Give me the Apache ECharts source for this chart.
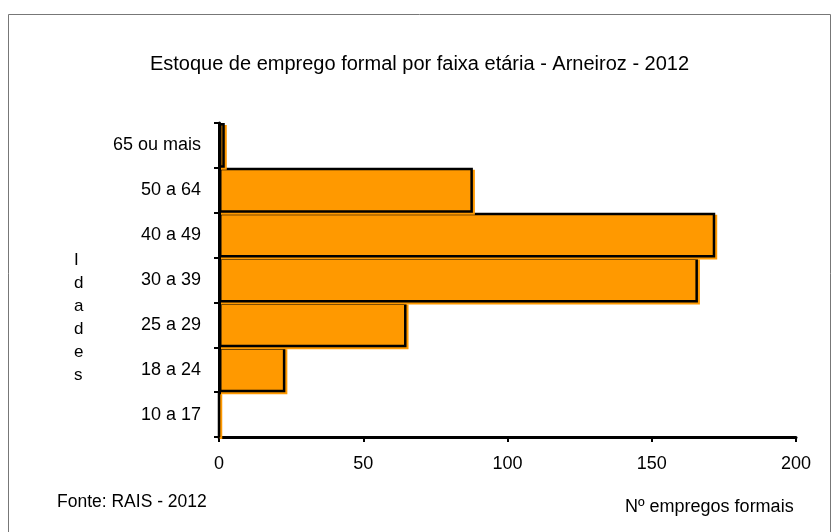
<!DOCTYPE html>
<html>
<head>
<meta charset="utf-8">
<script src="https://cdn.jsdelivr.net/npm/echarts@6/dist/echarts.min.js"></script>
<style>
  html, body { margin: 0; padding: 0; background: #fff; }
  #chart { width: 839px; height: 532px; }
</style>
</head>
<body>
<div id="chart"></div>
<script>
const ageGroups = ['10 a 17', '18 a 24', '25 a 29', '30 a 39', '40 a 49', '50 a 64', '65 ou mais'];
const jobCounts = [0, 23, 65, 166, 172, 88, 2];
const xTicks = [0, 50, 100, 150, 200];

const chart = echarts.init(document.getElementById('chart'));
const font = 'Liberation Sans, Arial, sans-serif';

chart.setOption({
  animation: false,
  backgroundColor: '#fff',
  title: {
    text: 'Estoque de emprego formal por faixa etária - Arneiroz - 2012',
    left: 'center',
    top: 49,
    textStyle: { fontFamily: font, fontSize: 20, fontWeight: 'normal', color: '#000' }
  },
  grid: { left: 219, right: 43, top: 123, bottom: 95 },
  xAxis: {
    type: 'value',
    min: xTicks[0],
    max: xTicks[xTicks.length - 1],
    interval: 50,
    axisLine: { show: true, lineStyle: { color: '#000', width: 3 } },
    axisTick: { show: true, length: 5, lineStyle: { color: '#000', width: 2 } },
    axisLabel: { fontFamily: font, fontSize: 18, color: '#000', margin: 18 },
    splitLine: { show: false }
  },
  yAxis: {
    type: 'category',
    data: ageGroups,
    boundaryGap: true,
    axisLine: { show: true, lineStyle: { color: '#000', width: 3 } },
    axisTick: { show: true, length: 5, lineStyle: { color: '#000', width: 2 } },
    axisLabel: { fontFamily: font, fontSize: 18, color: '#000', margin: 18 }
  },
  series: [{
    type: 'bar',
    data: jobCounts,
    barCategoryGap: '0%',
    itemStyle: {
      color: '#FF9900',
      borderColor: '#000',
      borderWidth: 2.5,
      shadowColor: '#FF9900',
      shadowOffsetX: 2,
      shadowOffsetY: 2,
      shadowBlur: 0
    }
  }],
  graphic: [
    {
      type: 'rect',
      shape: { x: 8.5, y: 14.5, width: 822, height: 530 },
      style: { fill: 'none', stroke: '#777', lineWidth: 1 },
      silent: true
    },
    {
      type: 'text',
      left: 74,
      top: 249,
      style: {
        text: 'I\nd\na\nd\ne\ns',
        fontFamily: font,
        fontSize: 17,
        lineHeight: 23,
        fill: '#000',
        align: 'center'
      }
    },
    {
      type: 'text',
      left: 57,
      top: 493,
      style: { text: 'Fonte: RAIS - 2012', fontFamily: font, fontSize: 17.5, fill: '#000' }
    },
    {
      type: 'text',
      left: 625,
      top: 498,
      style: { text: 'Nº empregos formais', fontFamily: font, fontSize: 18, fill: '#000' }
    }
  ]
});
</script>
</body>
</html>
